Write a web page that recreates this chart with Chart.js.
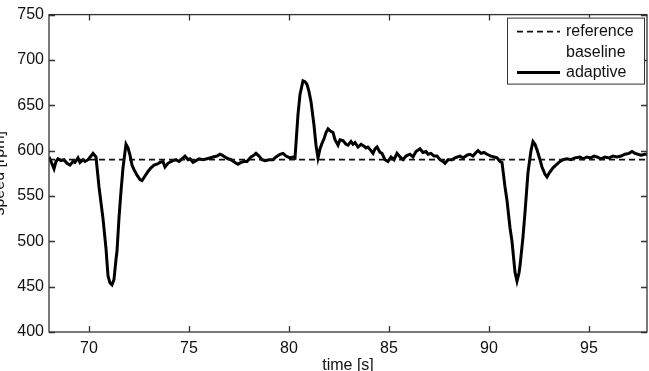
<!DOCTYPE html>
<html>
<head>
<meta charset="utf-8">
<script src="https://cdn.jsdelivr.net/npm/chart.js@4/dist/chart.umd.min.js"></script>
<style>
  html, body { margin: 0; padding: 0; background: #fff; }
</style>
</head>
<body>
<canvas id="speedChart" width="649" height="371"></canvas>
<script>
// values
const timeS = [
  68.0, 68.1, 68.25, 68.35, 68.45, 68.6, 68.75, 68.9, 69.05, 69.2, 69.3, 69.45, 69.55, 69.7, 69.8, 69.95,
  70.1, 70.2, 70.35, 70.5, 70.7, 70.85, 70.95, 71.05, 71.15, 71.25, 71.35, 71.4, 71.5, 71.6, 71.7, 71.85,
  71.95, 72.05, 72.15, 72.25, 72.4, 72.55, 72.65, 72.8, 72.95, 73.1, 73.25, 73.4, 73.55, 73.7, 73.8, 73.95,
  74.1, 74.2, 74.35, 74.5, 74.65, 74.8, 74.95, 75.05, 75.2, 75.35, 75.5, 75.7, 75.9, 76.05, 76.2, 76.4,
  76.55, 76.65, 76.8, 76.95, 77.1, 77.3, 77.45, 77.6, 77.75, 77.9, 78.1, 78.25, 78.35, 78.5, 78.65, 78.8,
  79.0, 79.2, 79.35, 79.55, 79.7, 79.85, 80.05, 80.2, 80.3, 80.45, 80.55, 80.7, 80.8, 80.9, 81.0, 81.1,
  81.25, 81.35, 81.45, 81.55, 81.65, 81.75, 81.85, 81.95, 82.05, 82.2, 82.3, 82.45, 82.55, 82.7, 82.85, 82.95,
  83.1, 83.2, 83.3, 83.45, 83.6, 83.75, 83.85, 83.95, 84.1, 84.2, 84.3, 84.4, 84.55, 84.65, 84.8, 84.95,
  85.1, 85.25, 85.4, 85.55, 85.7, 85.85, 86.05, 86.2, 86.35, 86.55, 86.7, 86.85, 86.95, 87.1, 87.25, 87.4,
  87.55, 87.7, 87.8, 87.95, 88.15, 88.3, 88.55, 88.7, 88.9, 89.05, 89.2, 89.35, 89.45, 89.6, 89.75, 89.9,
  90.1, 90.25, 90.4, 90.55, 90.65, 90.8, 90.9, 91.05, 91.15, 91.3, 91.4, 91.5, 91.55, 91.7, 91.8, 91.95,
  92.1, 92.2, 92.3, 92.4, 92.55, 92.65, 92.8, 92.9, 93.0, 93.2, 93.4, 93.55, 93.7, 93.9, 94.1, 94.3,
  94.55, 94.7, 94.9, 95.1, 95.25, 95.4, 95.6, 95.8, 96.0, 96.2, 96.4, 96.6, 96.8, 97.0, 97.15, 97.3,
  97.45, 97.6, 97.8, 98.0
];
const adaptiveRpm = [
  593, 588, 580, 588, 591, 589, 590, 586, 584, 588, 587, 592, 587, 590, 588, 590,
  594, 597, 593, 560, 525, 492, 462, 454, 452, 458, 480, 489, 526, 555, 581, 607,
  603, 595, 584, 579, 573, 568, 567, 572, 577, 581, 584, 585, 587, 588, 582, 586,
  588, 589, 590, 588, 591, 594, 590, 591, 587, 589, 591, 590, 591, 592, 593, 594,
  596, 595, 593, 591, 590, 587, 585, 587, 588, 588, 593, 595, 597, 594, 590, 589,
  590, 590, 593, 596, 597, 594, 592, 593, 592, 640, 662, 677, 676, 673, 665, 654,
  628, 606, 592, 602, 608, 613, 620, 624, 622, 620, 612, 606, 612, 611, 607, 606,
  610, 607, 609, 604, 607, 605, 603, 604, 600, 597, 602, 604, 598, 597, 590, 588,
  593, 590, 597, 593, 590, 594, 596, 593, 599, 602, 598, 599, 596, 597, 594, 594,
  590, 588, 586, 590, 590, 592, 594, 592, 595, 596, 594, 598, 600, 597, 598, 596,
  594, 593, 592, 588, 587, 560, 545, 515, 500, 466, 456, 465, 473, 505, 532, 576,
  600, 610, 607, 601, 590, 582, 574, 571, 575, 581, 585, 588, 590, 591, 590, 592,
  593, 591, 593, 592, 594, 593, 591, 593, 592, 594, 593, 594, 596, 597, 599, 597,
  596, 595, 596, 596
];
const refTimeS = [68, 98];
const referenceRpm = [590, 590];
const baselineRpm = [590, 590];

const xTicks = [70, 75, 80, 85, 90, 95];
const yTicks = [400, 450, 500, 550, 600, 650, 700, 750];

const toPoints = (xs, ys) => xs.map((x, i) => ({ x: x, y: ys[i] }));

const FONT = 'Liberation Sans, Arial, Helvetica, sans-serif';
const AXIS = '#333';
const TEXT = '#111';

// matlab style frame: box with inward ticks, legend inside, clipped y title
const framePlugin = {
  id: 'frame',
  afterDraw(chart) {
    const ctx = chart.ctx;
    const a = chart.chartArea;
    const xs = chart.scales.x, ys = chart.scales.y;
    ctx.save();
    ctx.strokeStyle = AXIS;
    ctx.lineWidth = 1.3;
    ctx.strokeRect(a.left, a.top, a.right - a.left, a.bottom - a.top);
    ctx.beginPath();
    xTicks.forEach(v => {
      const px = Math.round(xs.getPixelForValue(v)) + 0.5;
      ctx.moveTo(px, a.bottom); ctx.lineTo(px, a.bottom - 6);
      ctx.moveTo(px, a.top); ctx.lineTo(px, a.top + 6);
    });
    yTicks.forEach(v => {
      const py = Math.round(ys.getPixelForValue(v)) + 0.5;
      ctx.moveTo(a.left, py); ctx.lineTo(a.left + 6, py);
      ctx.moveTo(a.right, py); ctx.lineTo(a.right - 6, py);
    });
    ctx.stroke();

    // axis titles
    ctx.fillStyle = TEXT;
    ctx.font = '16px ' + FONT;
    ctx.textAlign = 'center';
    ctx.textBaseline = 'top';
    ctx.fillText('time [s]', (a.left + a.right) / 2, 358);
    ctx.save();
    ctx.translate(4, (a.top + a.bottom) / 2);
    ctx.rotate(-Math.PI / 2);
    ctx.textBaseline = 'alphabetic';
    ctx.fillText('speed [rpm]', 0, 0);
    ctx.restore();

    // legend box
    const bx = a.right - 140, by = a.top + 3, bw = 137, bh = 66;
    ctx.fillStyle = '#fff';
    ctx.fillRect(bx, by, bw, bh);
    ctx.strokeStyle = AXIS;
    ctx.lineWidth = 1;
    ctx.strokeRect(bx + 0.5, by + 0.5, bw, bh);
    ctx.textAlign = 'left';
    ctx.textBaseline = 'middle';
    chart.data.datasets.forEach((ds, i) => {
      const ry = by + 14 + i * 20.5;
      ctx.save();
      ctx.strokeStyle = ds.borderColor;
      ctx.lineWidth = ds.borderWidth;
      ctx.setLineDash(ds.borderDash || []);
      ctx.beginPath();
      ctx.moveTo(bx + 10, ry); ctx.lineTo(bx + 53, ry);
      ctx.stroke();
      ctx.restore();
      ctx.fillStyle = TEXT;
      ctx.fillText(ds.label, bx + 59, ry);
    });
    ctx.restore();
  }
};

new Chart(document.getElementById('speedChart'), {
  type: 'line',
  data: {
    datasets: [
      {
        label: 'reference',
        data: toPoints(refTimeS, referenceRpm),
        borderColor: '#111',
        borderWidth: 1.7,
        borderDash: [6, 4],
        pointRadius: 0
      },
      {
        label: 'baseline',
        data: toPoints(refTimeS, baselineRpm),
        borderColor: 'rgba(0,0,0,0.04)',
        borderWidth: 1,
        borderDash: [1, 3],
        pointRadius: 0
      },
      {
        label: 'adaptive',
        data: toPoints(timeS, adaptiveRpm),
        borderColor: '#000',
        borderWidth: 3,
        pointRadius: 0,
        tension: 0
      }
    ]
  },
  options: {
    responsive: false,
    animation: false,
    layout: { padding: { top: 14, right: 2, left: 0, bottom: 0 } },
    plugins: { legend: { display: false }, tooltip: { enabled: false } },
    scales: {
      x: {
        type: 'linear',
        min: 68,
        max: 97.9,
        afterBuildTicks: s => { s.ticks = xTicks.map(v => ({ value: v })); },
        afterFit: s => { s.height = 39; },
        grid: { display: false, drawTicks: false },
        border: { display: false },
        ticks: { padding: 7, color: TEXT, font: { family: FONT, size: 16 } }
      },
      y: {
        min: 400,
        max: 750,
        afterBuildTicks: s => { s.ticks = yTicks.map(v => ({ value: v })); },
        afterFit: s => { s.width = 49; },
        grid: { display: false, drawTicks: false },
        border: { display: false },
        ticks: { padding: 5, color: TEXT, font: { family: FONT, size: 16 } }
      }
    }
  },
  plugins: [framePlugin]
});
</script>
</body>
</html>
